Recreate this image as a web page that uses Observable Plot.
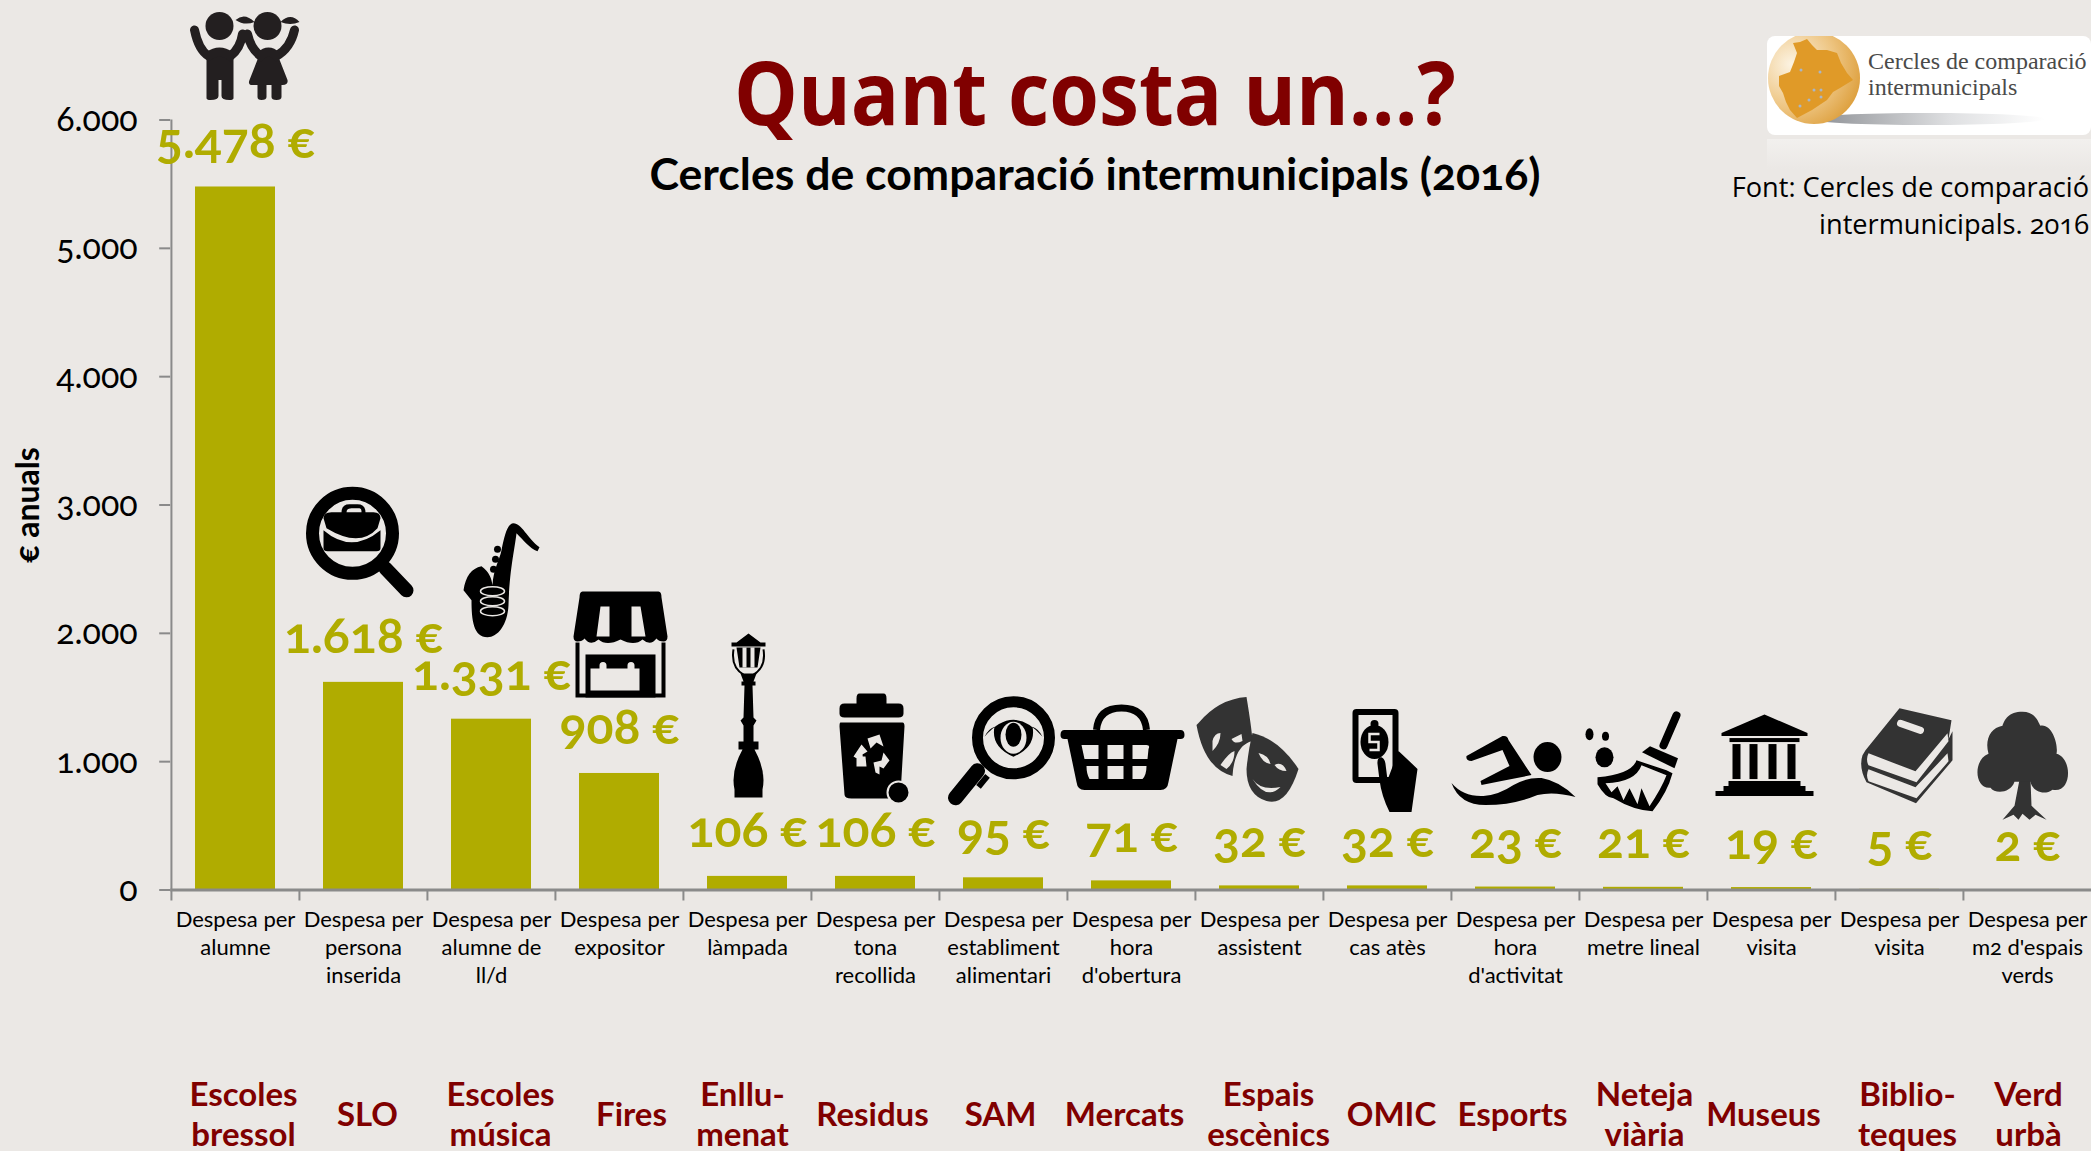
<!DOCTYPE html>
<html lang="ca"><head><meta charset="utf-8">
<script src="https://cdn.jsdelivr.net/npm/d3@7"></script>
<script src="https://cdn.jsdelivr.net/npm/@observablehq/plot@0.6"></script>
<style>
html,body{margin:0;padding:0;background:#ebe8e5;overflow:hidden}
#page{position:relative;width:2091px;height:1151px;overflow:hidden;font-family:Lato,sans-serif}
#page>div{position:absolute;white-space:nowrap}
#title{left:0;width:2190px;text-align:center;top:36px;font-size:88px;line-height:110px;font-weight:700;color:#800000;font-family:"Open Sans";transform:scaleX(.913);transform-origin:1095px 0}
#subtitle{left:0;width:2190px;text-align:center;top:143px;font-size:44.6px;line-height:60px;font-weight:700;color:#000;font-feature-settings:"onum"}
#source{right:2px;top:168px;text-align:right;font-size:27.2px;line-height:37px;color:#000;font-family:"Open Sans";font-feature-settings:"onum"}
#logo{left:1767px;top:36px}
#chart{left:0;top:0}
svg text{font-feature-settings:"onum"}
</style></head>
<body><div id="page">
<div id="chart"></div>
<div id="title">Quant costa un...?</div>
<div id="subtitle">Cercles de comparació intermunicipals (2016)</div>
<div id="logo">
<svg width="324" height="135" viewBox="0 0 324 135">
<defs><radialGradient id="gl" cx=".25" cy=".35" r=".85"><stop offset="0" stop-color="#fcf3e2"/><stop offset=".55" stop-color="#eec684"/><stop offset="1" stop-color="#db9a33"/></radialGradient>
<linearGradient id="sh" x1="0" x2="1"><stop offset="0" stop-color="#8a8d92"/><stop offset=".6" stop-color="#dfe0e2"/><stop offset="1" stop-color="#fff"/></linearGradient>
<linearGradient id="rf" x1="0" x2="0" y1="0" y2="1"><stop offset="0" stop-color="#f2f0ee"/><stop offset="1" stop-color="#ebe8e5"/></linearGradient></defs>
<rect y="103" width="324" height="30" fill="url(#rf)"/>
<rect width="324" height="99" rx="8" fill="#fff"/>
<ellipse cx="160" cy="83" rx="118" ry="6" fill="url(#sh)"/>
<circle cx="47" cy="42" r="46" fill="url(#gl)"/>
<path d="M26 7L33 6L40 3L45 9L50 14L60 14L70 17L74 27L80 37L86 44L73 52L66 56L60 64L45 74L30 82L23 74L19 66L16 57L12 50L12 40L23 36L27 26L30 17Z" fill="#e09a28"/>
<g fill="#a9b6c6"><circle cx="34" cy="34" r="1.5"/><circle cx="53" cy="36" r="1.5"/><circle cx="47" cy="54" r="1.5"/><circle cx="54" cy="54" r="1.5"/><circle cx="54" cy="61" r="1.5"/><circle cx="42" cy="64" r="1.5"/><circle cx="33" cy="70" r="1.5"/></g>
<text x="101" y="33" font-family="Liberation Serif" font-size="24" fill="#4a4a4a">Cercles de comparació</text>
<text x="101" y="59" font-family="Liberation Serif" font-size="24" fill="#4a4a4a">intermunicipals</text>
</svg></div>
<div id="source">Font: Cercles de comparació<br>intermunicipals. 2016</div>
</div>
<script>
const services = ["Escoles\nbressol","SLO","Escoles\nmúsica","Fires","Enllu-\nmenat","Residus","SAM","Mercats","Espais\nescènics","OMIC","Esports","Neteja\nviària","Museus","Biblio-\nteques","Verd\nurbà"];
const units = ["Despesa per\nalumne","Despesa per\npersona\ninserida","Despesa per\nalumne de\nll/d","Despesa per\nexpositor","Despesa per\nlàmpada","Despesa per\ntona\nrecollida","Despesa per\nestabliment\nalimentari","Despesa per\nhora\nd'obertura","Despesa per\nassistent","Despesa per\ncas atès","Despesa per\nhora\nd'activitat","Despesa per\nmetre lineal","Despesa per\nvisita","Despesa per\nvisita","Despesa per\nm2 d'espais\nverds"];
const costs = [5478,1618,1331,908,106,106,95,71,32,32,23,21,19,5,2];
const yTicks = [0,1000,2000,3000,4000,5000,6000];

const OLIVE="#b0ac00", RED="#800000", GREY="#8a8a8a", BG="#ebe8e5", K="#000", K2="#333", K3="#231f20";
const rows = services.map((s,i)=>({service:s,unit:units[i],cost:costs[i],key:i}));
const fmt = d3.format(",");
const dotted = v => fmt(v).replace(/,/g,".");

// pictograms: drawn around (0,0) in a 300-unit box
const glyphs = [
 // kids
 [9,-131,`<g fill="${K3}"><ellipse cx="-25" cy="-30" rx="14" ry="14"/><circle cx="23" cy="-30" r="14"/><path d="M10-34 Q0-44-9-36 Q0-30 10-34ZM36-34 Q46-44 55-34 Q46-30 36-34Z"/><path d="M-38-4H-11V42Q-11 44-15 44Q-23 44-23 40V24H-26V40Q-26 44-34 44Q-38 44-38 42Z"/><path d="M16-4H32L43 24Q44 29 38 29H37V41Q37 44 32 44Q27 44 27 41V29H22V41Q22 44 17 44Q13 44 13 41V29H8Q3 29 5 24Z"/></g><g fill="none" stroke="${K3}" stroke-width="9" stroke-linecap="round"><path d="M-50-26Q-46-6-36 0Q-25 -8-14 0Q-4-8-2-22M3-22Q6-8 16 0Q24-8 32 0Q46-8 50-26"/></g>`],
 // job search
 [-4,-142,`<circle cx="-7" cy="-7" r="40" fill="none" stroke="${K}" stroke-width="13"/><path d="M26 28L47 50" stroke="${K}" stroke-width="14" stroke-linecap="round"/><path d="M-36-22Q-36-28-28-28H-18Q-18-36-10-36H-2Q6-36 6-28H14Q21-28 21-22L18-12Q0 8-33-12ZM-36-10Q-8 14 21-10V8Q21 11 17 11H-32Q-36 11-36 8Z" fill="${K}"/><path d="M-13-28Q-13-32-8-32H0Q2-32 2-28Z" fill="${BG}"/>`],
 // sax
 [10,-139,`<path d="M12-57C20-57 26-42 38-33L36-29C28-32 22-40 15-47C13-30 8-10 7 25C6 45-4 57-14 57C-28 57-30 40-30 20L-38 10C-36-4-30-12-20-14C-12-8-10-2-9 5C-8-12-2-20 0-30C3-45 6-57 12-57Z" fill="${K}"/><g fill="${K}"><circle cx="-4" cy="-31" r="3.5"/><circle cx="-6" cy="-21" r="3.5"/><circle cx="-8" cy="-11" r="3.5"/></g><g fill="${K}" stroke="${BG}" stroke-width="1.5"><ellipse cx="-9" cy="11" rx="12" ry="4.5"/><ellipse cx="-9" cy="21" rx="12" ry="4.5"/><ellipse cx="-9" cy="31" rx="12" ry="4.5"/></g>`],
 // market stall
 [1,-129,`<path d="M-38-53H38Q41-53 41-47L47-8Q47-3 43-3Q38-3 36-6Q30 2 22-5Q14 2 0-5Q-14 2-22-5Q-30 2-36-6Q-38-3-43-3Q-47-3-47-8L-41-47Q-41-53-38-53Z" fill="${K}"/><path d="M-20-38H-11V-8H-24ZM11-38H20L25-8H11Z" fill="${BG}"/><path d="M-43-2V51H43V-2" fill="none" stroke="${K}" stroke-width="4"/><rect x="-35" y="10" width="70" height="43" fill="${K}"/><path d="M-30 24H-21V21A3.5 3.5 0 1 1-14 21V24H7V21A3.5 3.5 0 1 1 14 21V24H19V46H-30Z" fill="${BG}"/>`],
 // street lamp
 [1,-161,`<path d="M0-82L12-73H17V-69H-17V-73H-12ZM-12-68H12L9-48H-9Z" fill="${K}"/><path d="M-4-68V-48M4-68V-48" stroke="${BG}" stroke-width="4"/><path d="M-15-66Q-18-48-4-40M15-66Q18-48 4-40" fill="none" stroke="${K}" stroke-width="2"/><path d="M-8-42H8L5-34H7V-30H4L5 2L8 5L5 10L5 26H10V34H6Q18 56 14 74V82H-14V74Q-18 56-6 34H-10V26H-5L-5 10L-8 5L-5 2L-4-30H-7V-34H-5Z" fill="${K}"/>`],
 // bin
 [-4,-128,`<path d="M-12-55H12Q15-55 15-50V-45H27Q32-45 32-40V-35Q32-31 27-31H-27Q-32-31-32-35V-40Q-32-45-27-45H-15V-50Q-15-55-12-55ZM-31-26H31Q33-26 33-22L29 46Q29 50 20 50H-20Q-27 50-27 46L-32-22Q-32-26-31-26Z" fill="${K}"/><g fill="${BG}"><path d="M-4-10L8-14L12-2L5-6L-1 0ZM-18 8L-10-4L-4 3L-9 6L-8 14ZM-5 18H-15L-15 8H-6ZM4 24L2 14L10 12L12 4L18 12L12 20L8 18V26Z"/></g><circle cx="27" cy="44" r="11" fill="${K}" stroke="${BG}" stroke-width="2"/>`],
 // inspection
 [-3,-127,`<circle cx="13" cy="-13" r="36" fill="none" stroke="${K}" stroke-width="11"/><path d="M-23 20L-45 47" stroke="${K}" stroke-width="15" stroke-linecap="round"/><path d="M-13 25L-22 36" stroke="${K}" stroke-width="6"/><path d="M-16-14Q13-48 42-14Q38-22 32-24Q36-4 13 6Q-10-4-6-24Q-12-22-16-14Z" fill="${K}"/><ellipse cx="13" cy="-13" rx="13" ry="16" fill="${BG}"/><ellipse cx="13" cy="-16" rx="8" ry="12" fill="${K}"/>`],
 // basket
 [-9,-132,`<path fill-rule="evenodd" d="M-58-19H58Q62-19 62-14Q62-10 58-10H55L46 33Q45 41 38 41H-38Q-45 41-46 33L-55-10H-58Q-62-10-62-14Q-62-19-58-19ZM-41-4H-24V10H-38ZM-15-4H1V10H-15ZM10-4H24Q28-4 26 0L25 10H10ZM-36 17H-24V30H-33Q-36 25-36 17ZM-15 17H1V30H-15ZM10 17H24Q24 26 20 30H10Z" fill="${K}"/><path d="M-26-19Q-24-41 -1-41Q22-41 24-19" fill="none" stroke="${K}" stroke-width="7"/>`],
 // masks
 [-11,-137,`<path d="M-50-26Q-30-50-2-52Q3-22 4-8Q-14-4-16 27Q-44 20-52-24Z" fill="${K2}"/><path d="M-17-10L-7-15L-6-8Q-14-4-17-10ZM-36-8Q-34-16-28-16Q-28-6-36 2ZM-28 16Q-20 4-14 2Q-14 14-22 20Z" fill="${BG}"/><path d="M4-16Q30-10 50 20Q38 58 18 52Q-2 46-2 20Q0 0 4-16Z" fill="${K2}"/><path d="M10 4Q20 6 22 15Q14 14 10 4ZM38 22Q30 22 26 16Q34 12 38 22ZM4 30Q12 42 32 38Q18 52 4 30Z" fill="${BG}"/>`],
 // cash & hand
 [-4,-126,`<rect x="-31" y="-51" width="46" height="74" rx="4" fill="${K}"/><path d="M-25-45H9V17H-25Z" fill="${BG}"/><ellipse cx="-9" cy="-18" rx="14" ry="17" fill="${K}"/><circle cx="-9" cy="-36" r="4" fill="${K}"/><path d="M-4-26H-14V-18H-5V-10H-14" fill="none" stroke="${BG}" stroke-width="2.5"/><path d="M-6 4C-7-5 1-5 2 4L4 20L15-9L34 9L28 52H6Q-2 36-4 20Z" fill="${K}"/>`],
 // swimmer
 [-2,-118,`<path d="M-47-13L-11-33Q-6-34-5-29L18 6L-12 12L-32 16L-33 12L-4-3L-11-19L-42-8Q-48-8-47-13Z" fill="${K}"/><ellipse cx="34" cy="-12" rx="14" ry="15" fill="${K}"/><path d="M-62 14Q-50 28-30 27Q-15 26 0 16Q14 8 28 9Q46 12 62 28Q40 22 24 26Q0 36-28 36Q-54 36-62 14Z" fill="${K}"/>`],
 // broom
 [-10,-125,`<ellipse cx="-44" cy="-28" rx="4" ry="6" fill="${K}"/><ellipse cx="-28" cy="-26" rx="3.5" ry="4.5" fill="${K}"/><ellipse cx="-29" cy="-5" rx="9" ry="10" fill="${K}"/><path d="M43-47L30-17" stroke="${K}" stroke-width="8" stroke-linecap="round"/><path d="M8.5-10L16.5-16L44.5-4L41 6Z" fill="${K}"/><path d="M3-2Q-2 12-36 15L-36 22Q-28 36-20 36Q0 48 19 49Q34 30 39 11L33 8Z" fill="${K}"/><path d="M8 3Q2 20-28 21L-22 30L-16 24L-10 38L-4 26L4 42L8 26L16 44Q28 26 33 13Z" fill="${BG}"/>`],
 // museum
 [-7,-131.5,`<path d="M0-41.5L43-23V-20H-43V-23Z" fill="${K}"/><rect x="-35" y="-18" width="70" height="4" fill="${K}"/><g fill="${K}"><rect x="-32" y="-12" width="8" height="35"/><rect x="-15" y="-12" width="8" height="35"/><rect x="4" y="-12" width="8" height="35"/><rect x="23" y="-12" width="8" height="35"/></g><path d="M-36 25H36V30H41V35H49V40H-49V35H-41V30H-36Z" fill="${K}"/>`],
 // books
 [7,-134,`<path d="M-7-47L45-35L42-16L46-24V5L9.5 48L-40 27Q-48 12-44 0L-41-5Z" fill="${K2}"/><path d="M-6-32L14-25" stroke="${BG}" stroke-width="7" stroke-linecap="round"/><path d="M-38-2L9 16L41-22L42-14L10 27L-38 10Q-41 4-38-2Z" fill="${BG}"/><path d="M-38 14L9 32L41-2L42 6L10 43L-38 26Q-41 20-38 14Z" fill="${BG}"/>`],
 // tree
 [-5,-124,`<path d="M-3 14L-8 40L-20 54L-9 49L-4 54L0 48L7 54L13 49L24 54L9 40L8 14L14 8H-8Z" fill="${K2}"/><path d="M0-54C14-54 16-42 18-40C30-42 36-20 34-12C50-8 50 28 30 24C22 30 10 26 8 16H-8C-12 28-28 28-32 22C-48 24-50-6-34-12C-38-26-32-38-20-40C-18-46-14-54 0-54Z" fill="${K2}"/>`]
];
const glyphSrc = g => "data:image/svg+xml," + encodeURIComponent(`<svg xmlns="http://www.w3.org/2000/svg" viewBox="-150 -150 300 300">${g}</svg>`);

const xRange=[170.2,2092.3];
// small shifts of the red headings, as in the source layout
const headingShift=[8,4,9,12,-5,-3,-3,-7,9,4,-3,1,-8,8,1];
const FONT="Lato";
const chart = Plot.plot({
  width:2091,height:1151,marginTop:119.5,marginBottom:261.5,marginLeft:170.2,marginRight:0,
  style:{background:"transparent",overflow:"visible",fontFamily:FONT},
  x:{type:"band",domain:units.map((u,i)=>i),range:xRange,paddingInner:.375,paddingOuter:.1875,align:.5,axis:null},
  y:{domain:[0,6000],axis:null},
  marks:[
    Plot.barY(rows,{x:"key",y:"cost",fill:OLIVE}),
    Plot.ruleY([0],{stroke:GREY,strokeWidth:3}),
    Plot.ruleX([0],{x:d=>d,dx:-64.07,y1:0,y2:6000,stroke:GREY,strokeWidth:2}),
    Plot.axisY({ticks:yTicks,tickSize:11,tickPadding:22,tickFormat:dotted,stroke:GREY,fontSize:34,label:null,fill:"#000",strokeWidth:2}),
    Plot.axisX({anchor:"bottom",tickSize:11,tickFormat:()=>"",dx:-64.07,stroke:GREY,strokeWidth:2,label:null}),
    Plot.text(rows,{x:"key",text:"unit",frameAnchor:"bottom",lineAnchor:"top",dy:17,fontSize:22,lineHeight:1.27,fill:"#000"}),
    Plot.text(rows,{x:"key",y:"cost",text:d=>dotted(d.cost)+" €",dy:-45,fontSize:50,fontWeight:700,fill:OLIVE,lineAnchor:"middle"}),
    ...rows.map((d,i)=>Plot.text([d],{x:"key",text:"service",frameAnchor:"bottom",lineAnchor:"middle",dy:223,dx:headingShift[i],fontSize:33,fontWeight:700,lineHeight:1.21,fill:RED})),
    ...rows.map((d,i)=>Plot.image([d],{x:"key",y:"cost",src:()=>glyphSrc(glyphs[i][2]),width:300,height:300,dx:glyphs[i][0],dy:glyphs[i][1]})),
    Plot.text(["€ anuals"],{frameAnchor:"left",textAnchor:"middle",dx:-142,rotate:-90,fontSize:32,fontWeight:700,fill:"#000"})
  ]
});
document.getElementById("chart").appendChild(chart);
</script>
</body></html>
